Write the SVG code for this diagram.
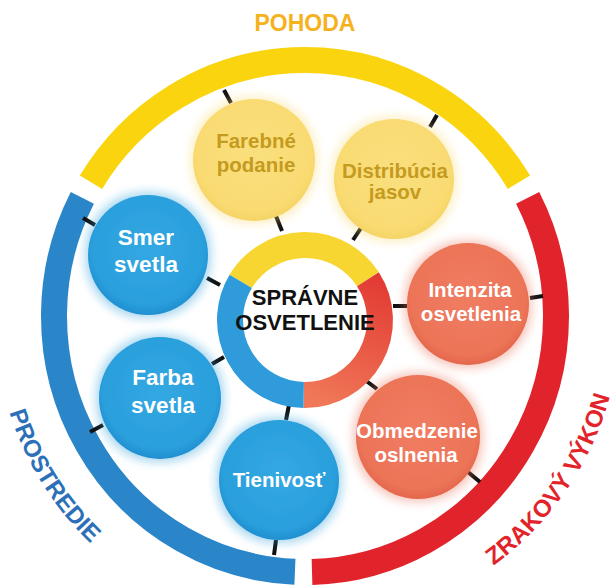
<svg xmlns="http://www.w3.org/2000/svg" width="616" height="587" viewBox="0 0 616 587">
<style>
.band{fill:none;stroke-width:26;stroke-linecap:butt}
.ring{fill:none;stroke-width:26}
.tick{stroke:#111;stroke-width:4;stroke-linecap:butt}
.lbl{font-family:"Liberation Sans",Arial,sans-serif;font-weight:bold;text-anchor:middle}
.yt{fill:#C49B1E;font-size:20.5px}
.wt{fill:#fff;font-size:22.5px}
.st{fill:#fff;font-size:20.5px}
.ct{fill:#111;font-size:22px}
</style>
<defs>
<filter id="glow" x="-40%" y="-40%" width="180%" height="180%">
<feMorphology in="SourceGraphic" operator="dilate" radius="3" result="d"/>
<feGaussianBlur in="d" stdDeviation="5" result="b"/>
<feComponentTransfer in="b" result="bo"><feFuncA type="linear" slope="0.4"/></feComponentTransfer>
<feMerge><feMergeNode in="bo"/><feMergeNode in="SourceGraphic"/></feMerge>
</filter>
<radialGradient id="gBlue" cx="50%" cy="45%" r="55%">
<stop offset="0" stop-color="#33A8E2"/><stop offset="0.85" stop-color="#2A9FDC"/><stop offset="1" stop-color="#1F8FD0"/>
</radialGradient>
<radialGradient id="gSal" cx="50%" cy="45%" r="55%">
<stop offset="0" stop-color="#F07D62"/><stop offset="0.85" stop-color="#EC7458"/><stop offset="1" stop-color="#E4674C"/>
</radialGradient>
<radialGradient id="gYel" cx="50%" cy="45%" r="55%">
<stop offset="0" stop-color="#FADF7E"/><stop offset="0.85" stop-color="#F9DB72"/><stop offset="1" stop-color="#F5D466"/>
</radialGradient>
<linearGradient id="gRing" gradientUnits="userSpaceOnUse" x1="375" y1="275" x2="320" y2="400">
<stop offset="0" stop-color="#E23A33"/><stop offset="1" stop-color="#F07757"/>
</linearGradient>
<path id="pLeft" d="M 8.0 408.0 A 313 313 0 0 0 118.0 567.0"/>
<path id="pRight" d="M 480.0 575.0 A 313 313 0 0 0 614.0 380.0"/>
</defs>

<g id="categories">
<path id="band-pohoda" class="band" stroke="#F9D40F" d="M 90.99 182.24 A 251 256 0 0 1 519.01 182.24"/>
<path id="band-prostredie" class="band" stroke="#2B86C9" d="M 82.36 197.8 A 251 256 0 0 0 294.93 571.79"/>
<path id="band-zrakovy" class="band" stroke="#E1242B" d="M 527.64 197.8 A 251 256 0 0 1 312.01 571.9"/>
<text class="lbl" x="305" y="31" font-size="23" fill="#F5B21C">POHODA</text>
<text class="lbl" font-size="24" fill="#2C71B8"><textPath href="#pLeft" startOffset="42%">PROSTREDIE</textPath></text>
<text class="lbl" font-size="24" fill="#E2242A"><textPath href="#pRight" startOffset="50%">ZRAKOVÝ VÝKON</textPath></text>
</g>

<g id="connectors">
<line class="tick" x1="276" y1="216" x2="282" y2="231"/>
<line class="tick" x1="361" y1="228" x2="353" y2="240"/>
<line class="tick" x1="393" y1="306" x2="407" y2="306"/>
<line class="tick" x1="365" y1="380" x2="377" y2="389"/>
<line class="tick" x1="289" y1="405" x2="286" y2="420"/>
<line class="tick" x1="224" y1="357" x2="212" y2="364"/>
<line class="tick" x1="207" y1="278" x2="220" y2="285"/>
<line class="tick" x1="83" y1="218" x2="95" y2="225"/>
<line class="tick" x1="90" y1="432" x2="103" y2="425"/>
<line class="tick" x1="276" y1="540" x2="274" y2="555"/>
<line class="tick" x1="224" y1="90" x2="231" y2="103"/>
<line class="tick" x1="437" y1="115" x2="430" y2="127"/>
<line class="tick" x1="530" y1="298" x2="543" y2="296"/>
<line class="tick" x1="468" y1="472" x2="480" y2="482"/>
</g>

<g id="node-farebne">
<circle cx="254" cy="160" r="61" fill="url(#gYel)" filter="url(#glow)"/>
<text class="lbl yt" x="256" y="148">Farebné</text>
<text class="lbl yt" x="256" y="172">podanie</text>
</g>
<g id="node-distribucia">
<circle cx="394" cy="179" r="60" fill="url(#gYel)" filter="url(#glow)"/>
<text class="lbl yt" x="395" y="178">Distribúcia</text>
<text class="lbl yt" x="395" y="199">jasov</text>
</g>
<g id="node-smer">
<circle cx="148" cy="255" r="60" fill="url(#gBlue)" filter="url(#glow)"/>
<text class="lbl wt" x="146" y="245">Smer</text>
<text class="lbl wt" x="146" y="272">svetla</text>
</g>
<g id="node-farba">
<circle cx="160" cy="398" r="61" fill="url(#gBlue)" filter="url(#glow)"/>
<text class="lbl wt" x="163" y="385">Farba</text>
<text class="lbl wt" x="163" y="413">svetla</text>
</g>
<g id="node-tienivost">
<circle cx="279" cy="480" r="60" fill="url(#gBlue)" filter="url(#glow)"/>
<text class="lbl st" x="279" y="487">Tienivosť</text>
</g>
<g id="node-intenzita">
<circle cx="468" cy="304" r="61" fill="url(#gSal)" filter="url(#glow)"/>
<text class="lbl st" x="470" y="297">Intenzita</text>
<text class="lbl st" x="471" y="321">osvetlenia</text>
</g>
<g id="node-obmedzenie">
<circle cx="418" cy="437" r="62" fill="url(#gSal)" filter="url(#glow)"/>
<text class="lbl st" x="417" y="438">Obmedzenie</text>
<text class="lbl st" x="416" y="462">oslnenia</text>
</g>

<g id="node-center">
<circle cx="305" cy="320" r="62.5" fill="#fff"/>
<path class="ring" stroke="#F7D631" d="M 240.7 281.4 A 75 75 0 0 1 367.9 279.2"/>
<path class="ring" stroke="url(#gRing)" d="M 367.9 279.2 A 75 75 0 0 1 303.7 395"/>
<path class="ring" stroke="#2F9BDA" d="M 303.7 395 A 75 75 0 0 1 240.7 281.4"/>
<text class="lbl ct" x="305" y="305">SPRÁVNE</text>
<text class="lbl ct" x="305" y="330">OSVETLENIE</text>
</g>
</svg>
